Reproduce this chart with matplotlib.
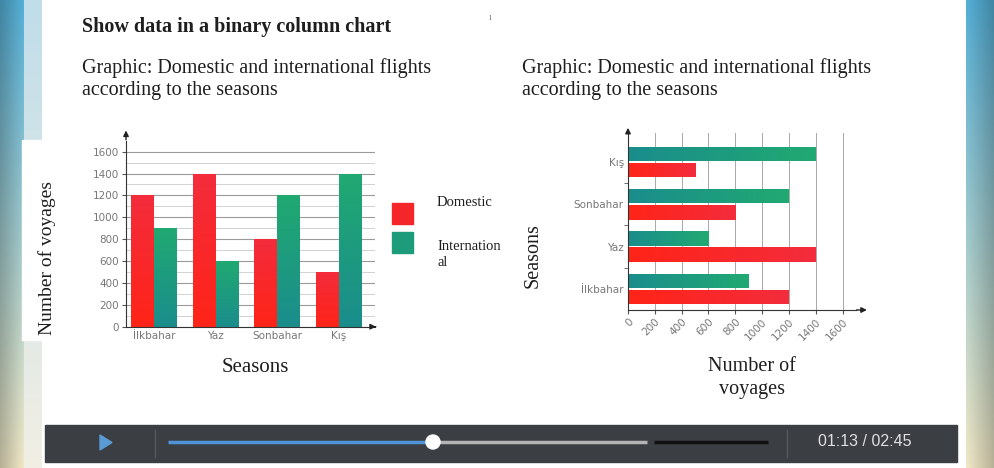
import numpy as np
import matplotlib.pyplot as plt
from matplotlib.colors import to_rgb
from matplotlib.patches import Rectangle, Circle, Polygon

plt.rcParams['font.family'] = ['Liberation Serif', 'DejaVu Serif']

# data
seasons = ["İlkbahar", "Yaz", "Sonbahar", "Kış"]
domestic = [1200, 1400, 800, 500]
international = [900, 600, 1200, 1400]
value_ticks = [0, 200, 400, 600, 800, 1000, 1200, 1400, 1600]
minor_ticks = [100, 300, 500, 700, 900, 1100, 1300, 1500]
legend_labels = ["Domestic", "Internation\nal"]
time_label = "01:13 / 02:45"

RED = "#f4262a"
GREEN = "#1d9c7c"
RED_A, RED_B = "#ff2418", "#f32c3c"      # gradient ends for red bars
GREEN_A, GREEN_B = "#1a8d8c", "#21a972"  # teal -> green
TICK_GRAY = "#777777"
TEXT = "#1e1e1e"

W, H = 995, 468
fig = plt.figure(figsize=(W / 100, H / 100), dpi=100)


def px_axes(l, t, r, b):
    return fig.add_axes([l / W, 1 - b / H, (r - l) / W, (b - t) / H])


def shade_bars(ax, bars, c0, c1, vertical):
    # paint a colour gradient inside each bar
    t = np.linspace(0, 1, 64)[:, None]
    cols = np.array(to_rgb(c0)) * (1 - t) + np.array(to_rgb(c1)) * t
    img = cols[:, None, :] if vertical else cols[None, :, :]
    for p in bars:
        x0, y0 = p.get_xy()
        im = ax.imshow(img, extent=(x0, x0 + p.get_width(), y0, y0 + p.get_height()),
                       origin='lower', aspect='auto', zorder=2.5, interpolation='bilinear')
        im.set_clip_path(p)


# background / slide frame, in pixel coordinates
bg = fig.add_axes([0, 0, 1, 1], zorder=0)
bg.set_xlim(0, W)
bg.set_ylim(H, 0)
bg.axis('off')

top_c = np.array([0.30, 0.62, 0.76])
bot_c = np.array([0.85, 0.82, 0.70])
t = np.linspace(0, 1, 100)[:, None, None]
strip = top_c * (1 - t) + bot_c * t
strip = np.repeat(strip, 10, axis=1)
shade = np.linspace(0.85, 1.1, 10)[None, :, None]
bg.imshow(np.clip(strip * shade, 0, 1), extent=(0, 24, H, 0), aspect='auto', zorder=0)
bg.imshow(np.clip(strip * shade[:, ::-1], 0, 1), extent=(966, W, H, 0), aspect='auto', zorder=0)
light = np.clip(strip * 0.35 + 0.65, 0, 1)
bg.imshow(light, extent=(24, 42, H, 0), aspect='auto', zorder=0)
bg.add_patch(Rectangle((22, 140), 22, 200, color='white', zorder=1))

# video player bar
bg.add_patch(Rectangle((45, 425), 912, 37, color='#3b3e43', zorder=2))
bg.add_patch(Polygon([(100, 435), (100, 450), (112, 442.5)], color='#5b9bd5', zorder=3))
bg.plot([155, 155], [430, 457], color='#55585d', lw=1, zorder=3)
bg.plot([787, 787], [430, 457], color='#55585d', lw=1, zorder=3)
bg.plot([168, 431], [442, 442], color='#4f94d8', lw=2.5, zorder=3, solid_capstyle='butt')
bg.plot([431, 647], [442, 442], color='#b4b4b4', lw=2.5, zorder=3, solid_capstyle='butt')
bg.plot([654, 768], [442, 442], color='#111111', lw=2.5, zorder=3, solid_capstyle='butt')
bg.add_patch(Circle((433, 442), 7, color='white', zorder=4))
bg.text(818, 442, time_label, color='#e0e0e0', fontsize=11.5, family='Liberation Sans',
        va='center', ha='left', zorder=4)

# slide texts
bg.text(82, 27, "Show data in a binary column chart", fontsize=14.5, fontweight='bold',
        color=TEXT, va='center')
for x0 in (82, 522):
    bg.text(x0, 68, "Graphic: Domestic and international flights", fontsize=14.5,
            color=TEXT, va='center')
    bg.text(x0, 90, "according to the seasons", fontsize=14.5, color=TEXT, va='center')
bg.text(490, 17, "ı", fontsize=8, color='#888888', ha='center', va='center')

bg.text(47, 258, "Number of voyages", fontsize=14, rotation=90, color=TEXT,
        ha='center', va='center')
bg.text(255, 367, "Seasons", fontsize=15, color=TEXT, ha='center', va='center')
bg.text(533, 256, "Seasons", fontsize=14.5, rotation=90, color=TEXT,
        ha='center', va='center')
bg.text(752, 378, "Number of\nvoyages", fontsize=14.5, color=TEXT, ha='center',
        va='center', linespacing=1.25)

# legend of the left chart
for (y0, col), lab, ty in zip([(203, RED), (232, GREEN)], legend_labels, [203, 255]):
    bg.add_patch(Rectangle((392, y0), 21, 21, color=col, zorder=2))
    bg.text(437, ty, lab, fontsize=10.5, color=TEXT, va='center', linespacing=1.3)

arrow = dict(arrowstyle='-|>', color='#222222', lw=1, mutation_scale=8)

# left chart: vertical columns
ax1 = px_axes(126, 140.7, 375, 326.7)
ax1.set_zorder(1)
ax1.patch.set_alpha(0)
x = np.arange(len(seasons))
w = 0.37
b_dom = ax1.bar(x - w / 2, domestic, w, color=RED, zorder=2)
b_int = ax1.bar(x + w / 2, international, w, color=GREEN, zorder=2)
shade_bars(ax1, b_dom, RED_A, RED_B, vertical=True)
shade_bars(ax1, b_int, GREEN_A, GREEN_B, vertical=True)
ax1.set_xlim(-0.455, 3.59)
ax1.set_ylim(0, 1700)
ax1.set_yticks(value_ticks)
ax1.set_yticks(minor_ticks, minor=True)
ax1.set_xticks(x, seasons)
ax1.grid(axis='y', which='major', color='#9a9a9a', lw=0.8, zorder=0)
ax1.grid(axis='y', which='minor', color='#d2d2d2', lw=0.7, zorder=0)
ax1.set_axisbelow(True)
for s in ('top', 'right'):
    ax1.spines[s].set_visible(False)
for s in ('left', 'bottom'):
    ax1.spines[s].set_color('#333333')
ax1.tick_params(axis='y', which='major', labelsize=7.5, labelcolor=TICK_GRAY, length=3,
                color='#555555', pad=2)
ax1.tick_params(axis='y', which='minor', length=0)
ax1.tick_params(axis='x', labelsize=7.5, labelcolor=TICK_GRAY, length=0, pad=3)
for lab in ax1.get_xticklabels() + ax1.get_yticklabels():
    lab.set_family('DejaVu Sans')
ax1.annotate('', xy=(0, 1.07), xytext=(0, 0.99), xycoords='axes fraction',
             arrowprops=arrow, annotation_clip=False)
ax1.annotate('', xy=(1.015, 0), xytext=(0.99, 0), xycoords='axes fraction',
             arrowprops=arrow, annotation_clip=False)

# right chart: horizontal bars
ax2 = px_axes(628, 133, 856, 310)
ax2.set_zorder(1)
ax2.patch.set_alpha(0)
h = 0.343
b_int2 = ax2.barh(x + h / 2 + 0.02, international, h, color=GREEN, zorder=2)
b_dom2 = ax2.barh(x - h / 2 - 0.02, domestic, h, color=RED, zorder=2)
shade_bars(ax2, b_int2, GREEN_A, GREEN_B, vertical=False)
shade_bars(ax2, b_dom2, RED_A, RED_B, vertical=False)
ax2.set_xlim(0, 1700)
ax2.set_ylim(-0.5, 3.686)
ax2.set_xticks(value_ticks)
ax2.set_xticklabels([str(v) for v in value_ticks], rotation=45, ha='right',
                    rotation_mode='anchor')
ax2.set_yticks(x, seasons)
ax2.set_yticks([0.5, 1.5, 2.5], minor=True)
ax2.grid(axis='x', which='major', color='#a8a8a8', lw=0.7, zorder=0)
ax2.set_axisbelow(True)
for s in ('top', 'right'):
    ax2.spines[s].set_visible(False)
for s in ('left', 'bottom'):
    ax2.spines[s].set_color('#333333')
ax2.tick_params(axis='x', labelsize=7.5, labelcolor=TICK_GRAY, length=3, color='#555555', pad=2)
ax2.tick_params(axis='y', which='major', labelsize=7.5, labelcolor=TICK_GRAY, length=0, pad=3)
ax2.tick_params(axis='y', which='minor', length=3, color='#555555')
for lab in ax2.get_xticklabels() + ax2.get_yticklabels():
    lab.set_family('DejaVu Sans')
ax2.annotate('', xy=(0, 1.045), xytext=(0, 0.99), xycoords='axes fraction',
             arrowprops=arrow, annotation_clip=False)
ax2.annotate('', xy=(1.06, 0), xytext=(0.99, 0), xycoords='axes fraction',
             arrowprops=arrow, annotation_clip=False)

fig.savefig('out.png', dpi=100)
